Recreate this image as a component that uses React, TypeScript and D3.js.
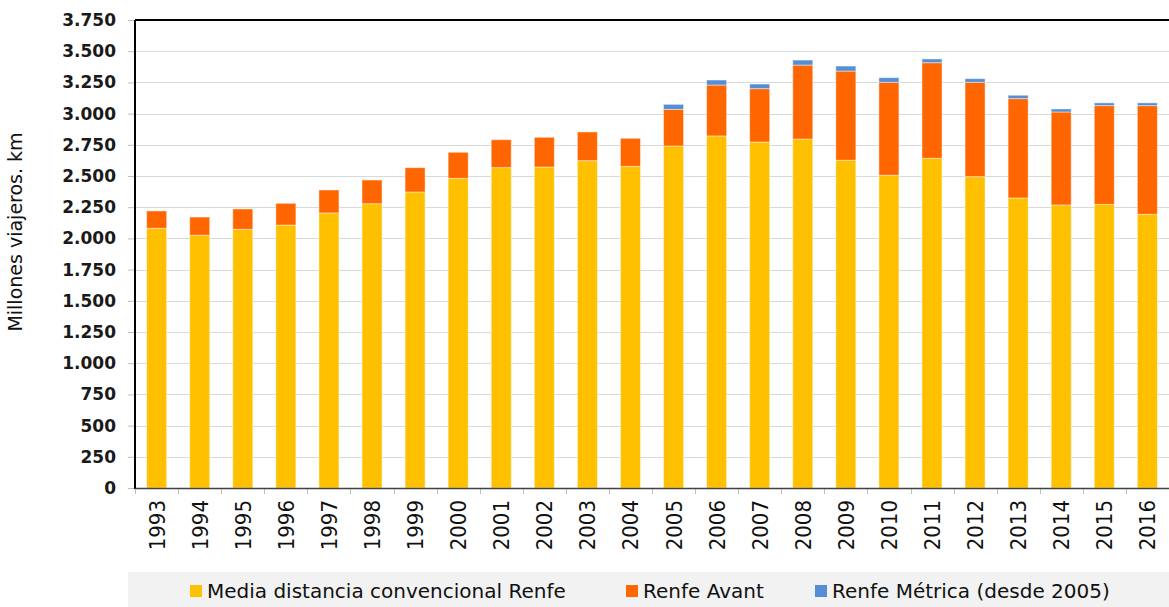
import * as d3 from 'd3';
import { useEffect, useRef } from 'react';

const years = ['1993', '1994', '1995', '1996', '1997', '1998', '1999', '2000', '2001', '2002', '2003', '2004',
  '2005', '2006', '2007', '2008', '2009', '2010', '2011', '2012', '2013', '2014', '2015', '2016'];
const mediaDistancia = [2081, 2025, 2073, 2107, 2204, 2278, 2372, 2481, 2567, 2572, 2623, 2577,
  2740, 2821, 2772, 2796, 2626, 2506, 2642, 2495, 2324, 2268, 2273, 2193];
const renfeAvant = [139, 146, 163, 174, 184, 190, 195, 209, 224, 238, 230, 225,
  294, 408, 428, 593, 715, 745, 766, 756, 796, 745, 791, 871];
const renfeMetrica = [0, 0, 0, 0, 0, 0, 0, 0, 0, 0, 0, 0,
  40, 40, 37, 40, 40, 37, 30, 29, 27, 24, 22, 22];
const seriesNames = ['Media distancia convencional Renfe', 'Renfe Avant', 'Renfe Métrica (desde 2005)'];
const seriesColors = ['#FFC000', '#FF6600', '#558ED5'];
const yTicks = d3.range(0, 3751, 250);

const W = 1169;
const H = 607;

const drawChart = (container: HTMLElement) => {
  const left = 135;
  const right = W;
  const top = 20;
  const bottom = 488;

  const rows = years.map((y, i) => ({ year: y, a: mediaDistancia[i], b: renfeAvant[i], c: renfeMetrica[i] }));
  const stack = d3.stack<any>().keys(['a', 'b', 'c']);
  const layers = stack(rows);

  const x = d3.scaleBand().domain(years).range([left, right]).paddingInner(0.535).paddingOuter(0.27);
  const y = d3.scaleLinear().domain([0, 3750]).range([bottom, top]);

  const svg = d3.select(container).append('svg')
    .attr('width', W)
    .attr('height', H)
    .attr('viewBox', `0 0 ${W} ${H}`)
    .style('position', 'absolute')
    .style('left', '0px')
    .style('top', '0px')
    .style('background', '#fff');

  // grid
  svg.append('g')
    .selectAll('line')
    .data(yTicks.filter(t => t > 0 && t < 3750))
    .join('line')
    .attr('x1', left).attr('x2', right)
    .attr('y1', d => Math.round(y(d)) + 0.5).attr('y2', d => Math.round(y(d)) + 0.5)
    .attr('stroke', '#D9D9D9').attr('stroke-width', 1);

  // bars
  svg.append('g')
    .selectAll('g')
    .data(layers)
    .join('g')
    .attr('fill', (d, i) => seriesColors[i])
    .selectAll('rect')
    .data(d => d.filter(p => p[1] - p[0] > 0))
    .join('rect')
    .attr('x', d => x(d.data.year)!)
    .attr('width', x.bandwidth())
    .attr('y', d => y(d[1]))
    .attr('height', d => y(d[0]) - y(d[1]))
    .attr('stroke', 'rgba(255,255,255,0.45)')
    .attr('stroke-width', 1);

  // y axis
  const yAxis = d3.axisLeft(y).tickValues(yTicks).tickSize(7).tickFormat(d => d3.format(',')(d as number).replace(/,/g, '.'));
  const gy = svg.append('g').attr('transform', `translate(${left},0)`).call(yAxis);
  gy.select('.domain').remove();
  gy.selectAll('.tick line').attr('stroke', '#BFBFBF');
  gy.selectAll('.tick text')
    .attr('x', -19)
    .attr('font-family', '"DejaVu Sans", sans-serif')
    .attr('font-size', 17)
    .attr('font-weight', 'bold')
    .attr('fill', '#1a1a1a');

  // x axis: ticks at category boundaries, rotated year labels
  const gx = svg.append('g').attr('transform', `translate(0,${bottom})`);
  const step = (right - left) / years.length;
  gx.selectAll('line.xt')
    .data(d3.range(years.length + 1))
    .join('line')
    .attr('class', 'xt')
    .attr('x1', i => Math.round(left + i * step) + 0.5).attr('x2', i => Math.round(left + i * step) + 0.5)
    .attr('y1', 0).attr('y2', 6)
    .attr('stroke', '#BFBFBF');
  gx.selectAll('text')
    .data(years)
    .join('text')
    .attr('transform', d => `translate(${x(d)! + x.bandwidth() / 2 + 8},12) rotate(-90)`)
    .attr('text-anchor', 'end')
    .attr('font-family', '"Liberation Sans Narrow", "DejaVu Sans Condensed", sans-serif')
    .attr('font-size', 22)
    .attr('fill', '#111')
    .text(d => d);

  // frame: left, top, bottom
  svg.append('line').attr('x1', left).attr('x2', left).attr('y1', top).attr('y2', bottom + 1)
    .attr('stroke', '#000').attr('stroke-width', 2);
  svg.append('line').attr('x1', left).attr('x2', right).attr('y1', top).attr('y2', top)
    .attr('stroke', '#000').attr('stroke-width', 2);
  svg.append('line').attr('x1', left).attr('x2', right).attr('y1', bottom + 0.5).attr('y2', bottom + 0.5)
    .attr('stroke', '#404040').attr('stroke-width', 1.5);

  // y title
  svg.append('text')
    .attr('transform', `translate(22,${(top + bottom) / 2 - 22}) rotate(-90)`)
    .attr('text-anchor', 'middle')
    .attr('font-family', '"DejaVu Sans", sans-serif')
    .attr('font-size', 19)
    .attr('fill', '#111')
    .text('Millones viajeros. km');

  // legend
  const lg = svg.append('g');
  lg.append('rect').attr('x', 128).attr('y', 572).attr('width', W - 128).attr('height', 35).attr('fill', '#F2F2F2');
  const legendX = [190, 626, 815];
  const items = lg.selectAll('g.item')
    .data(seriesNames)
    .join('g')
    .attr('class', 'item')
    .attr('transform', (d, i) => `translate(${legendX[i]},0)`);
  items.append('rect').attr('x', 0).attr('y', 585).attr('width', 12).attr('height', 12)
    .attr('fill', (d, i) => seriesColors[i]);
  items.append('text')
    .attr('x', 17).attr('y', 598)
    .attr('font-family', '"DejaVu Sans", sans-serif')
    .attr('font-size', 20)
    .attr('fill', '#111')
    .text(d => d);

  return svg.node();
};

export default function App() {
  const domRef = useRef<HTMLDivElement>(null);
  useEffect(() => {
    if (domRef.current) {
      drawChart(domRef.current);
    }
    return () => {
      d3.select(domRef.current).selectAll('svg').remove();
    };
  }, []);
  return <div ref={domRef}></div>;
}
